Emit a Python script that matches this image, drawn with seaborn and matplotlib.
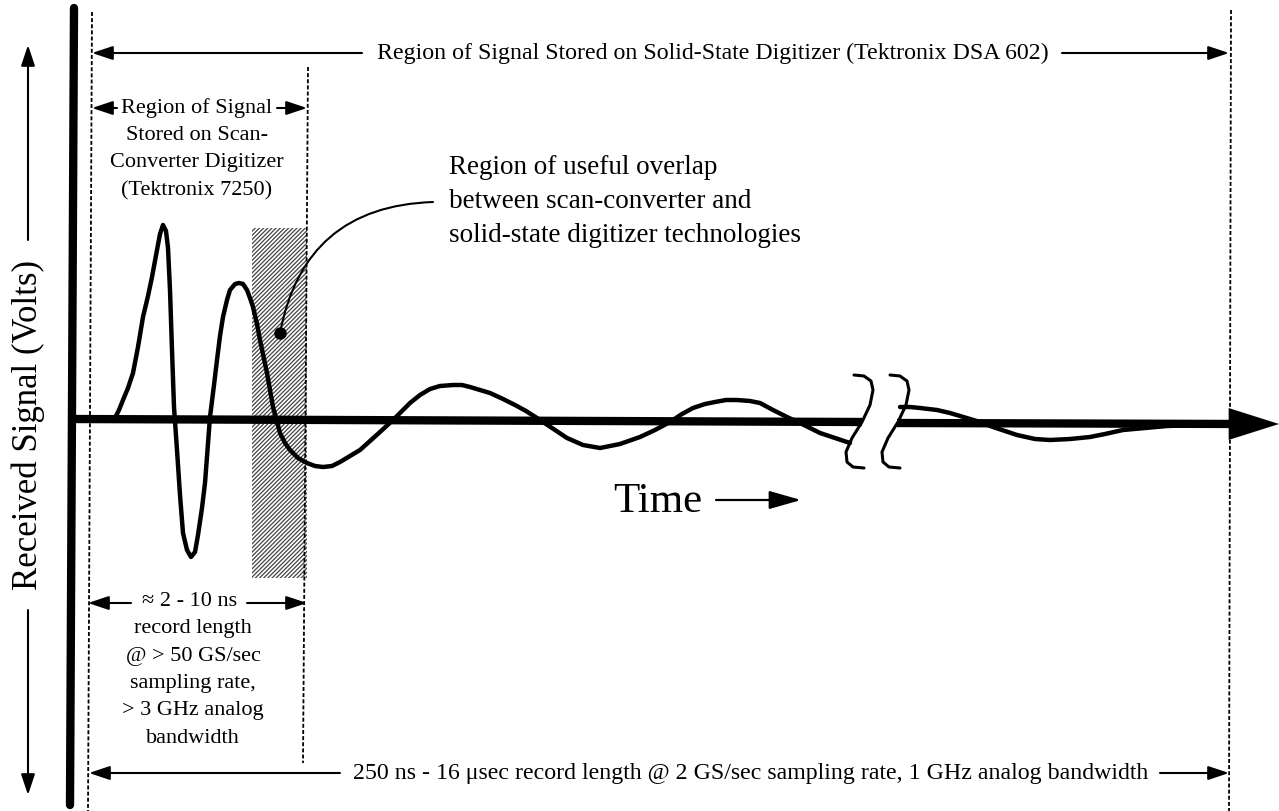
import matplotlib
import matplotlib.pyplot as plt
import seaborn as sns
from matplotlib.patches import Rectangle

matplotlib.use("Agg")

# waveform before the time-axis break (pixel-like units, y grows downward)
wave_early_x = [115, 119, 123, 128, 133, 138, 143, 148, 152, 157, 160, 163, 166, 168, 170, 172,
                174, 177, 180, 183, 187, 191, 195, 198, 202, 205, 210, 214, 217, 220, 223, 227,
                230, 235, 239, 243, 247, 250, 253, 257, 260, 267, 273, 280, 285, 290, 298, 307,
                315, 323, 332, 340, 350, 360, 370, 380, 393, 400, 410, 420, 430, 440, 453, 462,
                470, 480, 490, 503, 515, 526, 537, 552, 567, 583, 600, 620, 640, 655, 670, 682,
                693, 705, 715, 726, 737, 750, 760, 773, 787, 800, 810, 820, 835, 850]
wave_early_y = [418, 410, 400, 388, 373, 347, 317, 296, 277, 250, 234, 225, 231, 248, 290, 350,
                407, 450, 495, 533, 550, 557, 552, 535, 508, 483, 417, 385, 360, 336, 317, 300,
                290, 284, 283, 284, 290, 298, 307, 324, 340, 373, 407, 433, 443, 450, 458, 463,
                466, 467, 466, 462, 456, 450, 441, 432, 420, 413, 403, 395, 389, 386, 385, 385,
                387, 390, 393, 399, 405, 411, 418, 428, 438, 445, 448, 444, 437, 430, 422, 414,
                408, 404, 402, 400, 400, 401, 403, 410, 417, 423, 428, 433, 438, 443]

# waveform after the break
wave_late_x = [900, 910, 920, 937, 950, 960, 970, 980, 993, 1005, 1017, 1035, 1050, 1070, 1090,
               1105, 1123, 1145, 1167, 1195, 1217, 1230]
wave_late_y = [407, 407, 408, 410, 413, 416, 419, 422, 427, 431, 435, 439, 440, 439, 437,
               434, 430, 428, 426, 425, 425, 424]

# break symbol (one brace; the second is offset)
brace_x = [854, 864, 871, 873, 870, 862, 852, 846, 847, 853, 864]
brace_y = [375, 376, 381, 390, 405, 422, 438, 452, 462, 467, 468]
brace_offsets = [0, 36]

top_label = "Region of Signal Stored on Solid-State Digitizer (Tektronix DSA 602)"
scan_label = ["Stored on Scan-", "Converter Digitizer", "(Tektronix 7250)"]
overlap_label = ["Region of useful overlap", "between scan-converter and",
                 "solid-state digitizer technologies"]
short_record = ["record length", "@ > 50 GS/sec", "sampling rate,", "> 3 GHz analog", "bandwidth"]
long_record = "250 ns - 16 \u03bcsec record length @ 2 GS/sec sampling rate, 1 GHz analog bandwidth"

sns.set_theme(style="white")
plt.rcParams["font.family"] = ["Liberation Serif", "DejaVu Serif"]
plt.rcParams["text.color"] = "black"
plt.rcParams["hatch.linewidth"] = 0.9

fig = plt.figure(figsize=(12.79, 8.11), dpi=100)
ax = fig.add_axes([0, 0, 1, 1])
ax.set_xlim(0, 1279)
ax.set_ylim(811, 0)
ax.axis("off")

ink = "black"

# overlap region (hatched)
ax.add_patch(Rectangle((252, 228), 55, 350, facecolor="white", edgecolor="#444444",
                       hatch="////////", linewidth=0, zorder=1))

# dashed boundaries
dash = dict(color=ink, lw=1.3, ls=(0, (2.2, 1.2)), zorder=2)
ax.plot([92, 88], [12, 811], **dash)
ax.plot([308, 303], [67, 763], **dash)
ax.plot([1231, 1229], [10, 811], **dash)

# axes of the sketch
ax.plot([74, 70], [8, 805], color=ink, lw=6, solid_capstyle="round", zorder=4)
ax.plot([72, 862], [419, 422], color=ink, lw=6, solid_capstyle="butt", zorder=4)
ax.plot([897, 1245], [423, 424], color=ink, lw=6, solid_capstyle="butt", zorder=4)
ax.annotate("", xy=(1279, 424), xytext=(1236, 424),
            arrowprops=dict(arrowstyle="-|>,head_length=3.0,head_width=0.95",
                            color=ink, lw=0.1, shrinkA=0, shrinkB=0), zorder=4)

# waveform
for xs, ys in [(wave_early_x, wave_early_y), (wave_late_x, wave_late_y)]:
    sns.lineplot(x=xs, y=ys, sort=False, estimator=None, color=ink, lw=3.2, ax=ax,
                 zorder=5, solid_joinstyle="round", solid_capstyle="round")

for off in brace_offsets:
    ax.plot([x + off for x in brace_x], brace_y, color=ink, lw=2.2,
            solid_capstyle="round", solid_joinstyle="round", zorder=6)

# leader from the overlap region to its label
ax.annotate("", xy=(433, 202), xytext=(280, 333),
            arrowprops=dict(arrowstyle="-", color=ink, lw=1.5, shrinkA=0, shrinkB=0,
                            connectionstyle="arc3,rad=-0.4"), zorder=6)
ax.plot(280, 333, "o", color=ink, ms=8, zorder=6)


def arrow(x0, y0, x1, y1, lw=1.5, scale=14):
    ax.annotate("", xy=(x1, y1), xytext=(x0, y0),
                arrowprops=dict(arrowstyle="-|>,head_length=0.9,head_width=0.3",
                                color=ink, lw=lw, shrinkA=0, shrinkB=0,
                                mutation_scale=scale), zorder=6)


# top span
ax.text(377, 53, top_label, fontsize=17.2, ha="left", va="center")
arrow(362, 53, 92, 53)
arrow(1062, 53, 1229, 53)

# scan-converter span
ax.text(197, 108, "Region of Signal", fontsize=16, ha="center", va="center")
arrow(117, 108, 92, 108)
arrow(277, 108, 307, 108)
for i, line in enumerate(scan_label):
    ax.text(197, 135 + i * 28, line, fontsize=16, ha="center", va="center")

# overlap label
for i, line in enumerate(overlap_label):
    ax.text(449, 168 + i * 34, line, fontsize=19.5, ha="left", va="center")

# short record
ax.text(190, 602, "\u2248 2 - 10 ns", fontsize=16, ha="center", va="center")
arrow(131, 603, 88, 603)
arrow(247, 603, 307, 603)
for i, line in enumerate(short_record):
    ax.text(193, 629 + i * 27.3, line, fontsize=16, ha="center", va="center")

# long record
ax.text(353, 773, long_record, fontsize=17.2, ha="left", va="center")
arrow(340, 773, 89, 773)
arrow(1160, 773, 1229, 773)

# time label
ax.text(613, 512, "Time", fontsize=31, ha="left", va="baseline")
ax.annotate("", xy=(801, 500), xytext=(716, 500),
            arrowprops=dict(arrowstyle="-|>,head_length=1.4,head_width=0.4",
                            color=ink, lw=1.6, shrinkA=0, shrinkB=0, mutation_scale=14))

# vertical label
ax.text(28, 425, "Received Signal (Volts)", fontsize=25, rotation=90,
        ha="center", va="center")
arrow(28, 240, 28, 45)
arrow(28, 610, 28, 795)

fig.savefig("out.png", dpi=100)
plt.close(fig)
